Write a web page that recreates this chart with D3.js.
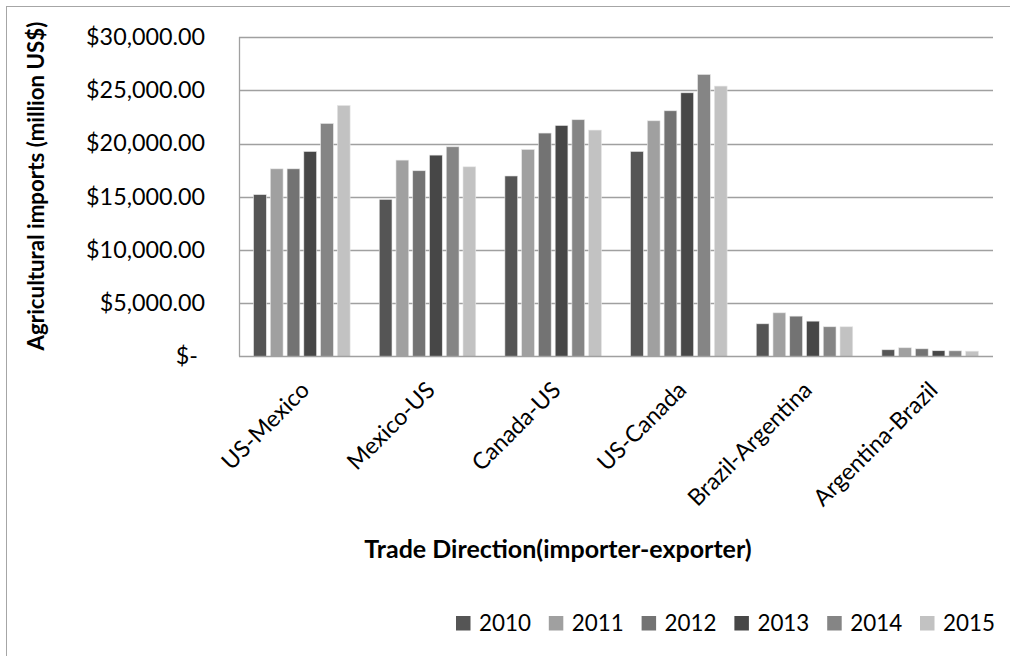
<!DOCTYPE html>
<html>
<head>
<meta charset="utf-8">
<script src="https://cdn.jsdelivr.net/npm/d3@7/dist/d3.min.js"></script>
<style>
  html, body { margin: 0; padding: 0; background: #fff; }
  svg { display: block; font-family: Lato, "Open Sans", sans-serif; }
</style>
</head>
<body>
<svg id="chart" width="1010" height="656"></svg>
<script>
// Agricultural imports by trade direction, 2010-2015 (million US$)
const categories = ["US-Mexico", "Mexico-US", "Canada-US", "US-Canada", "Brazil-Argentina", "Argentina-Brazil"];
const years = ["2010", "2011", "2012", "2013", "2014", "2015"];
const v2010 = [15200, 14750, 16950, 19250, 3070, 630];
const v2011 = [17620, 18440, 19440, 22130, 4100, 820];
const v2012 = [17620, 17440, 20980, 23070, 3790, 720];
const v2013 = [19250, 18910, 21690, 24760, 3320, 540];
const v2014 = [21880, 19690, 22230, 26480, 2790, 530];
const v2015 = [23570, 17810, 21260, 25390, 2790, 500];
const yTicks = [0, 5000, 10000, 15000, 20000, 25000, 30000];
const colors = ["#555555", "#a0a0a0", "#737373", "#474747", "#858585", "#c2c2c2"];

const seriesValues = [v2010, v2011, v2012, v2013, v2014, v2015];

const svg = d3.select("#chart");

// outer chart frame
svg.append("rect")
  .attr("x", 6.5).attr("y", 6.5)
  .attr("width", 1010).attr("height", 660)
  .attr("fill", "#fff").attr("stroke", "#a6a6a6").attr("stroke-width", 1);

const plot = { left: 239, right: 993, top: 37, bottom: 356.5 };

const x0 = d3.scaleBand().domain(categories).range([plot.left, plot.right]).padding(0);
const x1 = d3.scaleBand().domain(years)
  .range([x0.bandwidth() * 0.1, x0.bandwidth() * 0.9]).padding(0);
const y = d3.scaleLinear().domain([0, 30000]).range([plot.bottom, plot.top]);
const color = d3.scaleOrdinal().domain(years).range(colors);

// horizontal gridlines
svg.append("g")
  .selectAll("line")
  .data(yTicks.filter(d => d > 0))
  .join("line")
  .attr("x1", plot.left).attr("x2", plot.right)
  .attr("y1", d => Math.round(y(d)) + 0.5).attr("y2", d => Math.round(y(d)) + 0.5)
  .attr("stroke", "#a0a0a0").attr("stroke-width", 1.3);

// y axis labels (accounting style)
const fmt = d => d === 0 ? "$-" : "$" + d3.format(",.2f")(d);
const yAxis = d3.axisLeft(y).tickValues(yTicks).tickFormat(fmt).tickSize(0).tickPadding(34);
const gy = svg.append("g").attr("transform", `translate(${plot.left},0)`).call(yAxis);
gy.select(".domain").remove();
gy.selectAll("text")
  .attr("font-size", 23.3).attr("fill", "#000")
  .attr("font-family", "Lato, sans-serif")
  .attr("dx", d => d === 0 ? -7 : 0);

// bars
const rows = categories.map((c, i) => ({ cat: c, vals: years.map((yr, j) => ({ year: yr, value: seriesValues[j][i] })) }));
const groups = svg.append("g").selectAll("g")
  .data(rows)
  .join("g")
  .attr("transform", d => `translate(${x0(d.cat)},0)`);
groups.selectAll("rect")
  .data(d => d.vals)
  .join("rect")
  .attr("x", d => x1(d.year) + 2)
  .attr("width", x1.bandwidth() - 4)
  .attr("y", d => y(d.value))
  .attr("height", d => y(0) - y(d.value))
  .attr("fill", d => color(d.year))
  .attr("stroke", "#e6e6e6").attr("stroke-width", 0.6);

// axis lines
svg.append("line")
  .attr("x1", plot.left + 0.5).attr("x2", plot.left + 0.5)
  .attr("y1", plot.top).attr("y2", plot.bottom)
  .attr("stroke", "#a0a0a0").attr("stroke-width", 1.3);
svg.append("line")
  .attr("x1", plot.left).attr("x2", plot.right)
  .attr("y1", plot.bottom).attr("y2", plot.bottom)
  .attr("stroke", "#a0a0a0").attr("stroke-width", 1.5);

// rotated category labels
const xAxis = d3.axisBottom(x0).tickSize(0).tickPadding(0);
const gx = svg.append("g").attr("transform", `translate(0,${plot.bottom})`).call(xAxis);
gx.select(".domain").remove();
gx.selectAll("text")
  .attr("font-size", 23.2).attr("fill", "#000")
  .attr("font-family", "Lato, sans-serif")
  .attr("text-anchor", "end")
  .attr("dy", 0)
  .attr("transform", "translate(9,35) rotate(-45)");

// axis titles
svg.append("text")
  .attr("transform", "translate(44,186) rotate(-90)")
  .attr("text-anchor", "middle")
  .attr("font-size", 22.3).attr("font-weight", "bold")
  .text("Agricultural imports (million US$)");

svg.append("text")
  .attr("x", 558).attr("y", 558)
  .attr("text-anchor", "middle")
  .attr("font-size", 25).attr("font-weight", "bold")
  .text("Trade Direction(importer-exporter)");

// legend
const legendX = d3.scalePoint().domain(years).range([456, 920]);
const lg = svg.append("g").selectAll("g")
  .data(years)
  .join("g")
  .attr("transform", d => `translate(${legendX(d)},616)`);
lg.append("rect").attr("width", 14.5).attr("height", 14.5).attr("fill", d => color(d));
lg.append("text").attr("x", 23).attr("y", 14.5)
  .attr("font-size", 22.4).attr("fill", "#000").text(d => d);
</script>
</body>
</html>
